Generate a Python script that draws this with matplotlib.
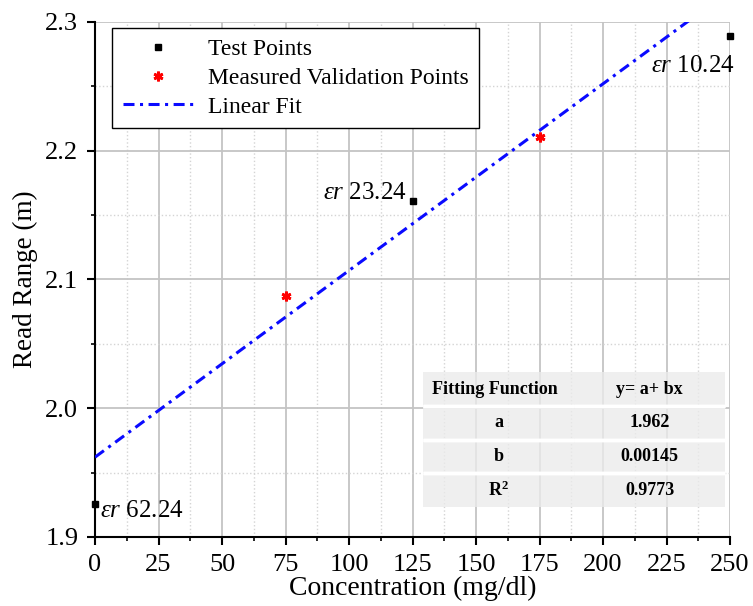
import numpy as np
import matplotlib
matplotlib.use("Agg")
import matplotlib.pyplot as plt
from matplotlib.ticker import MultipleLocator
from matplotlib.patches import Rectangle

plt.rcParams['font.family'] = ['Liberation Serif', 'DejaVu Serif']
plt.rcParams['mathtext.fontset'] = 'custom'
plt.rcParams['mathtext.rm'] = 'Liberation Serif'
plt.rcParams['mathtext.it'] = 'Liberation Serif:italic'
plt.rcParams['mathtext.bf'] = 'Liberation Serif:bold'

# Data
test_x = [0, 125, 250]
test_y = [1.926, 2.161, 2.289]
test_labels = ["62.24", "23.24", "10.24"]
valid_x = [75, 175]
valid_y = [2.087, 2.211]
fit_a = 1.962
fit_b = 0.00145
table_rows = [["Fitting Function", "y= a+ bx"],
              ["a", "1.962"],
              ["b", "0.00145"],
              ["$\\mathbf{R^2}$", "0.9773"]]

fig = plt.figure(figsize=(7.53, 6.06), dpi=100)
ax = fig.add_axes([0.1262, 0.1139, 0.8433, 0.8498])

# grid
ax.xaxis.set_major_locator(MultipleLocator(25))
ax.xaxis.set_minor_locator(MultipleLocator(12.5))
ax.yaxis.set_major_locator(MultipleLocator(0.1))
ax.yaxis.set_minor_locator(MultipleLocator(0.05))
ax.grid(which='major', color='#c4c4c4', linewidth=1.3, linestyle='-')
ax.grid(which='minor', color='#d4d4d4', linewidth=1.0, linestyle=':')
ax.set_axisbelow(True)

# linear fit
fx = np.array([0, 250])
ax.plot(fx, fit_a + fit_b * fx, color='#0a0aff', linewidth=2.2,
        dashes=(3.6, 1.8, 1.0, 1.8), label='Linear Fit', zorder=3)
ax.plot(test_x, test_y, 's', color='black', markersize=4.5, linestyle='none',
        label='Test Points', zorder=4, clip_on=False)
ax.plot(valid_x, valid_y, marker=(6, 2, 0), color='red', markersize=7,
        markeredgewidth=2, linestyle='none', label='Measured Validation Points',
        zorder=4)

# annotations
ax.text(2, 1.9155, r"$\varepsilon r$ " + test_labels[0], fontsize=18,
        ha='left', va='baseline')
ax.text(122.8, 2.1625, r"$\varepsilon r$ " + test_labels[1], fontsize=18,
        ha='right', va='baseline')
ax.text(252, 2.261, r"$\varepsilon r$ " + test_labels[2], fontsize=18,
        ha='right', va='baseline')

ax.set_xlim(0, 250)
ax.set_ylim(1.9, 2.3)
ax.set_xticks(np.arange(0, 251, 25))
ax.set_yticks([1.9, 2.0, 2.1, 2.2, 2.3])
ax.set_yticklabels(["1.9", "2.0", "2.1", "2.2", "2.3"])
ax.spines['top'].set_visible(False)
ax.spines['right'].set_visible(False)
ax.spines['left'].set_linewidth(1.5)
ax.spines['bottom'].set_linewidth(1.5)
ax.tick_params(which='major', direction='out', length=6, width=1.5,
               labelsize=19)
ax.tick_params(axis='x', which='major', pad=6)
ax.tick_params(axis='y', which='major', pad=6)
ax.tick_params(which='minor', direction='out', length=3, width=1.2)
ax.set_xlabel("Concentration (mg/dl)", fontsize=20, labelpad=0)
ax.set_ylabel("Read Range (m)", fontsize=19.5)
ax.yaxis.set_label_coords(-0.09, 0.5)

leg = ax.legend(handles=[ax.lines[1], ax.lines[2], ax.lines[0]],
                loc='upper left', bbox_to_anchor=(0.027, 0.988),
                borderaxespad=0, fontsize=17, frameon=True, fancybox=False,
                edgecolor='black', handlelength=3, borderpad=0.45,
                labelspacing=0.3, handletextpad=0.6)
leg.get_frame().set_linewidth(1.0)
leg.get_frame().set_alpha(1)

# table
tb = [0.517, 0.058, 0.475, 0.262]
ax.add_patch(Rectangle((tb[0], tb[1]), tb[2], tb[3], transform=ax.transAxes,
                       facecolor=(0.92, 0.92, 0.92, 0.78), edgecolor='none',
                       zorder=5))
tbl = ax.table(cellText=table_rows, bbox=tb, cellLoc='center', zorder=6)
tbl.auto_set_font_size(False)
for (r, c), cell in tbl.get_celld().items():
    cell.set_facecolor('none')
    cell.set_edgecolor('white')
    cell.set_linewidth(2.5)
    cell.visible_edges = 'horizontal' if r > 0 else 'B'
    if r == len(table_rows) - 1:
        cell.visible_edges = 'T'
    cell.get_text().set_fontsize(13)
    cell.get_text().set_fontweight('bold')
    if r == 0 and c == 0:
        cell._loc = 'left'
        cell.PAD = 0.06
        cell.get_text().set_ha('left')

fig.savefig("out.png", dpi=100)
